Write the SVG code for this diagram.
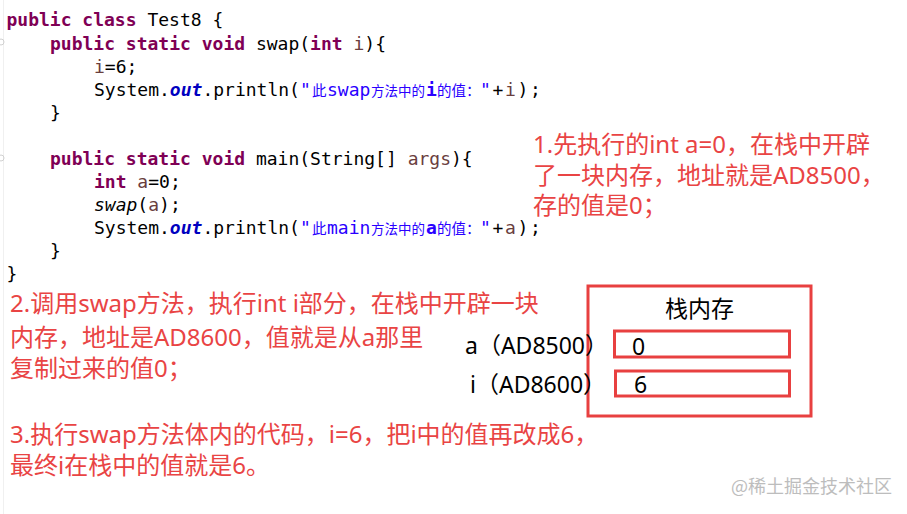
<svg xmlns="http://www.w3.org/2000/svg" width="907" height="514" viewBox="0 0 907 514">
<style>
.code{font-family:"DejaVu Sans Mono","Liberation Mono",monospace;font-size:18px;fill:#000;}
.kw{fill:#7f0055;font-weight:bold;}
.var{fill:#6a3e3e;}
.fld{fill:#0000c0;font-weight:bold;font-style:italic;}
.str{fill:#2a00ff;}
.cjk{font-family:"Noto Sans CJK SC",sans-serif;}
.it{font-style:italic;}
.note{font-family:"Noto Sans","Noto Sans CJK SC",sans-serif;font-size:24px;fill:#e94444;}
.lbl{font-family:"Noto Sans","Noto Sans CJK SC",sans-serif;font-size:23px;fill:#000;}
.box{fill:none;stroke:#e84040;stroke-width:3;}
.wm{font-family:"Noto Sans CJK SC",sans-serif;font-size:18px;fill:#bdbdbd;}
</style>
<rect width="907" height="514" fill="#fff"/>
<line x1="3.5" y1="0" x2="3.5" y2="514" stroke="#f0f0f0" stroke-width="1"/>
<circle cx="1" cy="42" r="3" fill="none" stroke="#d0d0d0" stroke-width="1"/>
<circle cx="1" cy="158" r="3" fill="none" stroke="#d0d0d0" stroke-width="1"/>

<g id="code" class="code">
<text x="6.5" y="26"><tspan class="kw">public class</tspan> Test8 {</text>
<text x="50" y="49.5"><tspan class="kw">public static void</tspan> swap(<tspan class="kw">int</tspan> <tspan class="var">i</tspan>){</text>
<text x="94" y="73"><tspan class="var">i</tspan>=6;</text>
<text x="94" y="96">System.<tspan class="fld">out</tspan>.println(<tspan class="str" x="300">"</tspan><tspan class="str cjk" x="312" font-size="14.5">此</tspan><tspan class="str" x="327">swap</tspan><tspan class="str cjk" x="371" font-size="13.5">方法中的</tspan><tspan class="str" x="426" font-weight="bold">i</tspan><tspan class="str cjk" x="437" font-size="14.5">的值：</tspan><tspan class="str" x="480">"</tspan><tspan x="492.5">+</tspan><tspan class="var" x="505">i</tspan><tspan x="517.5 530">);</tspan></text>
<text x="50" y="119">}</text>
<text x="50" y="164.5"><tspan class="kw">public static void</tspan> main(String[] <tspan class="var">args</tspan>){</text>
<text x="94" y="187.5"><tspan class="kw">int</tspan> <tspan class="var">a</tspan>=0;</text>
<text x="94" y="210.5"><tspan class="it">swap</tspan>(<tspan class="var">a</tspan>);</text>
<text x="94" y="233.5">System.<tspan class="fld">out</tspan>.println(<tspan class="str" x="300">"</tspan><tspan class="str cjk" x="312" font-size="14.5">此</tspan><tspan class="str" x="327">main</tspan><tspan class="str cjk" x="371" font-size="13.5">方法中的</tspan><tspan class="str" x="426" font-weight="bold">a</tspan><tspan class="str cjk" x="437" font-size="14.5">的值：</tspan><tspan class="str" x="480">"</tspan><tspan x="492.5">+</tspan><tspan class="var" x="505">a</tspan><tspan x="517.5 530">);</tspan></text>
<text x="50" y="256.5">}</text>
<text x="6.5" y="279.5">}</text>
</g>

<g id="note1" class="note">
<text x="533" y="153">1.先执行的int a=0，在栈中开辟</text>
<text x="533" y="184">了一块内存，地址就是AD8500，</text>
<text x="533" y="214">存的值是0；</text>
</g>

<g id="note2" class="note">
<text x="10" y="312">2.调用swap方法，执行int i部分，在栈中开辟一块</text>
<text x="10" y="346">内存，地址是AD8600，值就是从a那里</text>
<text x="10" y="377">复制过来的值0；</text>
</g>

<g id="note3" class="note">
<text x="10" y="443">3.执行swap方法体内的代码，i=6，把i中的值再改成6，</text>
<text x="10" y="474">最终i在栈中的值就是6。</text>
</g>

<g id="stack">
<rect class="box" x="588" y="286" width="223" height="130"/>
<text class="lbl" x="699.5" y="316.5" text-anchor="middle" font-size="24">栈内存</text>
</g>

<g id="cell-a">
<text class="lbl" x="465" y="354">a（AD8500）</text>
<rect class="box" x="614.5" y="331" width="175" height="26"/>
<text class="lbl" x="632" y="355">0</text>
</g>

<g id="cell-i">
<text class="lbl" x="470" y="393">i（AD8600）</text>
<rect class="box" x="615.5" y="371" width="174" height="25"/>
<text class="lbl" x="634" y="393">6</text>
</g>

<g id="watermark">
<text class="wm" x="731" y="493">@稀土掘金技术社区</text>
</g>
</svg>
